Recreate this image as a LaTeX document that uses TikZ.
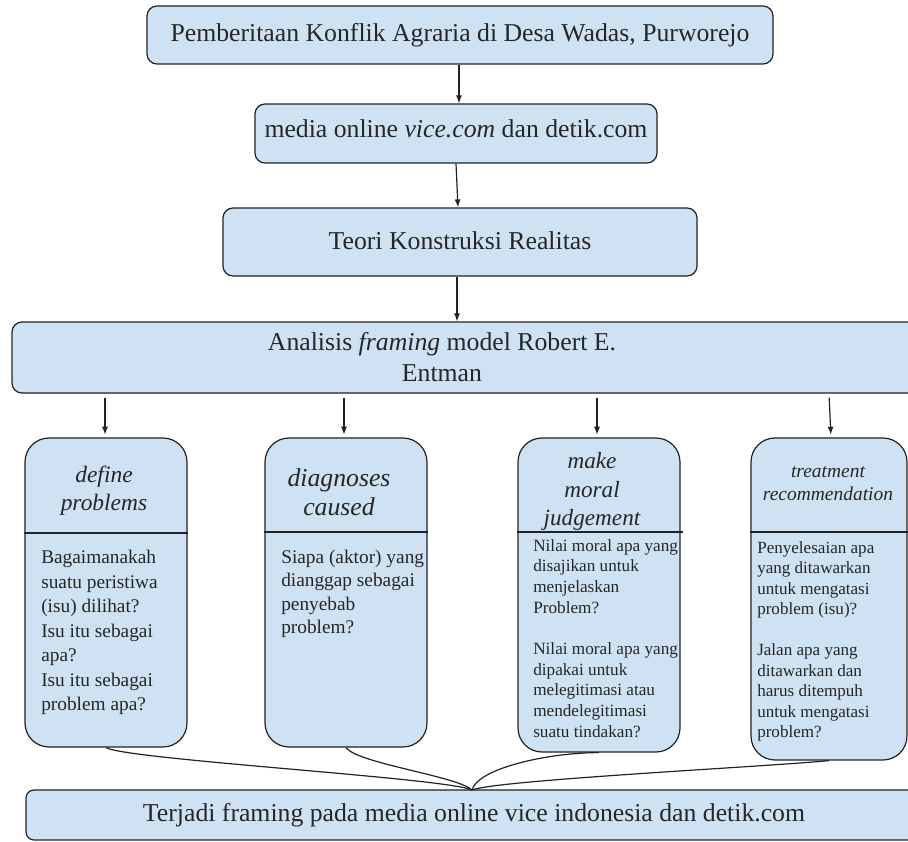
\documentclass[tikz,border=0pt]{standalone}
\usepackage{fontspec}
\setmainfont{Liberation Serif}
\usetikzlibrary{arrows.meta}
\definecolor{boxfill}{HTML}{CFE2F3}
\definecolor{edge}{HTML}{222222}
\begin{document}
\begin{tikzpicture}[x=0.75pt,y=-0.75pt,
  box/.style={draw=edge, line width=0.9pt, fill=boxfill, rounded corners=7.5pt, inner sep=0pt},
  colbox/.style={draw=edge, line width=0.9pt, fill=boxfill, rounded corners=18pt, inner sep=0pt, minimum width=121.5pt},
  bigtext/.style={font=\fontsize{19.3}{23.2}\selectfont, inner sep=0pt, text=black!85},
  arr/.style={draw=edge, line width=0.9pt, -{Latex[length=6pt,width=4.5pt]}},
  link/.style={draw=edge, line width=0.9pt},
  titletext/.style={inner sep=0pt, align=center, text=black!85},
  bodytext/.style={inner sep=0pt, align=left, anchor=north west, text=black!85}
]
\useasboundingbox (0,0) rectangle (908,842);

% top boxes
\node[box, minimum width=469.5pt, minimum height=43.5pt] (b1) at (460,35) {};
\node[box, minimum width=301.5pt, minimum height=44.25pt] (b2) at (456,133.5) {};
\node[box, minimum width=355.5pt, minimum height=51pt] (b3) at (460,242) {};
\node[box, minimum width=750pt, minimum height=53.25pt] (b4) at (512,357.5) {};

\node[bigtext] (t1) at (460,35) {Pemberitaan Konflik Agraria di Desa Wadas, Purworejo};
\node[bigtext] (t2) at (456,129) {media online \textit{vice.com} dan detik.com};
\node[bigtext] (t3) at (460,241) {Teori Konstruksi Realitas};
\node[bigtext, align=center] (t4) at (442,357.5) {Analisis \textit{framing} model Robert E.\\Entman};

% column boxes
\node[colbox, minimum height=231.75pt] (A) at (106,592.5) {};
\node[colbox, minimum height=231.75pt] (B) at (346,592.5) {};
\node[colbox, minimum height=235.5pt] (C) at (599,595) {};
\node[colbox, minimum width=117pt, minimum height=241.5pt] (D) at (829,599) {};

% bottom box
\node[box, rounded corners=6pt, minimum width=750pt, minimum height=37.5pt] (F) at (526,815) {};
\node[bigtext] (t5) at (474,815) {Terjadi framing pada media online vice indonesia dan detik.com};

% dividers
\draw[link] (A.west |- 0,533) -- (A.east |- 0,533);
\draw[link] (B.west |- 0,532) -- (B.east |- 0,532);
\draw[link] (C.west |- 0,532) -- ([xshift=1.5pt]C.east |- 0,532);
\draw[link] (D.west |- 0,532) -- (D.east |- 0,532);

% titles
\node[titletext, font=\fontsize{17.6}{21}\selectfont\itshape] (tA) at (104,491) {define\\problems};
\node[titletext, font=\fontsize{19.3}{22}\selectfont\itshape] (tB) at (339,492.5) {diagnoses\\caused};
\node[titletext, font=\fontsize{17.4}{21.4}\selectfont\itshape] (tC) at (592,491.5) {make\\moral\\judgement};
\node[titletext, font=\fontsize{14.6}{17.25}\selectfont\itshape] (tD) at (828,483.5) {treatment\\recommendation};

% bodies
\node[bodytext, font=\fontsize{14.5}{18.4}\selectfont] (pA) at (41,550)
  {Bagaimanakah\\suatu peristiwa\\(isu) dilihat?\\Isu itu sebagai\\apa?\\Isu itu sebagai\\problem apa?};
\node[bodytext, font=\fontsize{14.5}{17.7}\selectfont] (pB) at (281,549.5)
  {Siapa (aktor) yang\\dianggap sebagai\\penyebab\\problem?};
\node[bodytext, font=\fontsize{12.9}{15.5}\selectfont] (pC) at (533,539)
  {Nilai moral apa yang\\disajikan untuk\\menjelaskan\\Problem?\\[15.5pt]Nilai moral apa yang\\dipakai untuk\\melegitimasi atau\\mendelegitimasi\\suatu tindakan?};
\node[bodytext, font=\fontsize{12.8}{15.4}\selectfont] (pD) at (757,541)
  {Penyelesaian apa\\yang ditawarkan\\untuk mengatasi\\problem (isu)?\\[15.4pt]Jalan apa yang\\ditawarkan dan\\harus ditempuh\\untuk mengatasi\\problem?};

% arrows
\draw[arr] (b1.south -| 459,0) -- (b2.north -| 459,0);
\draw[arr] (b2.south) -- (b3.north -| 458,0);
\draw[arr] (b3.south -| 457,0) -- (b4.north -| 457,0);
\draw[arr, shorten <=3pt, shorten >=2pt] (b4.south -| 105,0) -- (A.north -| 105,0);
\draw[arr, shorten <=3pt, shorten >=2pt] (b4.south -| 344,0) -- (B.north -| 344,0);
\draw[arr, shorten <=3pt, shorten >=2pt] (b4.south -| 597,0) -- (C.north -| 597,0);
\draw[arr, shorten <=3pt, shorten >=2pt] (b4.south -| 829,0) -- (D.north -| 831,0);

% converging links
\coordinate (m) at (472,790);
\draw[link] (A.south) .. controls +(20,12) and +(-25,-12) .. (m);
\draw[link] (B.south) .. controls +(12,16) and +(-15,-14) .. (m);
\draw[link] (C.south) .. controls +(-50,0) and +(6,-22) .. (m);
\draw[link] (D.south) .. controls +(-60,6) and +(25,-10) .. (m);
\end{tikzpicture}
\end{document}
